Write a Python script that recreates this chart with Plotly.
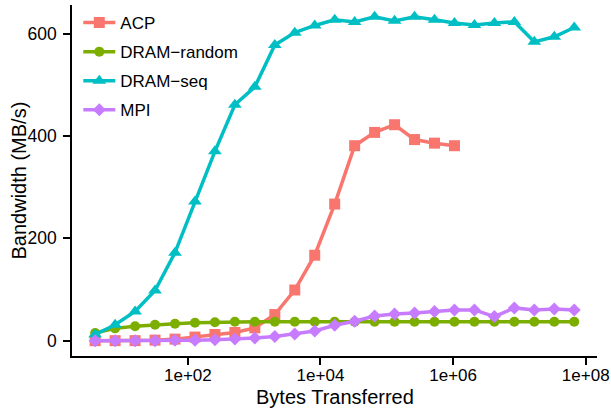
import plotly.graph_objects as go

bytes_x = [2**k for k in range(2, 27)]

acp = [0, 0, 0, 1, 3, 7, 12, 16, 25, 51, 99, 167, 267, 381, 407, 422, 393, 386, 381]
dram_random = [15, 24, 28, 31, 33, 35, 36, 37, 37, 37, 37, 37, 37, 37, 37, 37, 37, 37, 37, 37, 37, 37, 37, 37, 37]
dram_seq = [12, 31, 57, 98, 172, 272, 370, 461, 496, 578, 602, 616, 627, 623, 633, 625, 633, 627, 621, 617, 621, 623, 584, 594, 612]
mpi = [0, 0, 0, 0, 1, 1, 2, 3, 5, 8, 13, 19, 30, 38, 48, 52, 54, 57, 60, 60, 47, 64, 60, 62, 60]

series_names = ["ACP", "DRAM\u2212random", "DRAM\u2212seq", "MPI"]
series_values = [acp, dram_random, dram_seq, mpi]
colors = ["#F8766D", "#7CAE00", "#00BFC4", "#C77CFF"]
symbols = ["square", "circle", "triangle-up", "diamond"]
sizes = [11, 10, 12, 10]

x_tickvals = [1e2, 1e4, 1e6, 1e8]
x_ticktext = ["1e+02", "1e+04", "1e+06", "1e+08"]
y_tickvals = [0, 200, 400, 600]

fig = go.Figure()
for name, vals, c, s, sz in zip(series_names, series_values, colors, symbols, sizes):
    fig.add_trace(go.Scatter(
        x=bytes_x[:len(vals)], y=vals, name=name, mode="lines+markers",
        line=dict(color=c, width=3.5),
        marker=dict(color=c, symbol=s, size=sz),
        legendgroup=name,
    ))

font = "Liberation Sans, Arial, sans-serif"
fig.update_layout(
    width=611, height=408,
    margin=dict(l=72, r=14, t=5, b=52),
    paper_bgcolor="white", plot_bgcolor="white",
    font=dict(family=font, color="black"),
    showlegend=True,
    hovermode=False,
    legend=dict(x=0.012, y=1.0, xanchor="left", yanchor="top",
                font=dict(size=17, family=font, color="black"),
                bgcolor="rgba(0,0,0,0)", itemwidth=32, tracegroupgap=4),
    xaxis=dict(type="log", range=[0.253, 8.17], automargin=False,
               tickvals=x_tickvals, ticktext=x_ticktext,
               showline=True, linecolor="black", linewidth=1.5,
               ticks="outside", ticklen=7, tickwidth=1.5, tickcolor="black",
               ticklabelstandoff=-4,
               showgrid=False, zeroline=False,
               tickfont=dict(size=17, color="black")),
    yaxis=dict(range=[-30, 656], automargin=False,
               tickvals=y_tickvals,
               showline=True, linecolor="black", linewidth=1.5,
               ticks="outside", ticklen=7, tickwidth=1.5, tickcolor="black",
               ticklabelstandoff=3,
               showgrid=False, zeroline=False,
               tickfont=dict(size=17.5, color="black")),
    annotations=[
        dict(text="Bytes Transferred", xref="paper", yref="paper", x=0.5, y=0,
             xanchor="center", yanchor="middle", yshift=-41, showarrow=False,
             font=dict(size=20, color="black")),
        dict(text="Bandwidth (MB/s)", xref="paper", yref="paper", x=0, y=0.5,
             xanchor="center", yanchor="middle", xshift=-54, textangle=-90,
             showarrow=False, font=dict(size=20, color="black")),
    ],
)

fig.write_html("out.html", config={"displayModeBar": False},
               post_script="document.body.style.margin='0';document.body.style.padding='0';")
